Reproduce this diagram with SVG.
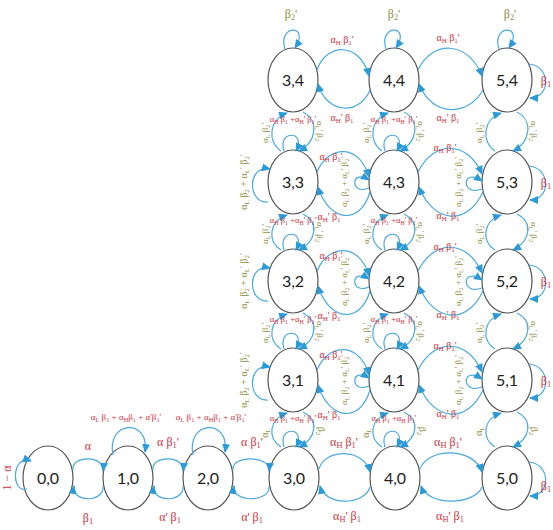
<svg xmlns="http://www.w3.org/2000/svg" width="553" height="530" viewBox="0 0 553 530">
<defs>
<marker id="ah" markerUnits="userSpaceOnUse" markerWidth="10" markerHeight="8" refX="8" refY="4" orient="auto"><path d="M0,0 L9,4 L0,8 z" fill="#2b9ad8"/></marker>
<style>
.node{fill:#fff;stroke:#555;stroke-width:1.2}
.nl{font-family:Lato,"Liberation Sans",sans-serif;font-size:16px;fill:#222;text-anchor:middle}
.e{fill:none;stroke:#4aaae0;stroke-width:1.2;marker-end:url(#ah)}
.r{font-family:"Liberation Serif",serif;fill:#cc3340;text-anchor:middle}
.o{font-family:"Liberation Serif",serif;fill:#8f8f3e;text-anchor:middle}
.b{font-size:0.7em}
.s12{font-size:12px}.s11{font-size:11px}.s10{font-size:10px}.s9{font-size:9px}.s85{font-size:8.5px}
</style>
</defs>
<rect width="553" height="530" fill="#fff"/>
<g id="nodes">
<g id="n0-0"><ellipse class="node" cx="48" cy="478" rx="25" ry="32"/><text class="nl" x="48" y="484">0,0</text></g>
<g id="n1-0"><ellipse class="node" cx="128" cy="478" rx="25" ry="32"/><text class="nl" x="128" y="484">1,0</text></g>
<g id="n2-0"><ellipse class="node" cx="208" cy="478" rx="25" ry="32"/><text class="nl" x="208" y="484">2,0</text></g>
<g id="n3-0"><ellipse class="node" cx="294" cy="478" rx="25" ry="32"/><text class="nl" x="294" y="484">3,0</text></g>
<g id="n4-0"><ellipse class="node" cx="395" cy="478" rx="25" ry="32"/><text class="nl" x="395" y="484">4,0</text></g>
<g id="n5-0"><ellipse class="node" cx="507" cy="478" rx="25" ry="32"/><text class="nl" x="507" y="484">5,0</text></g>
<g id="n3-1"><ellipse class="node" cx="293" cy="380" rx="25" ry="32"/><text class="nl" x="293" y="386">3,1</text></g>
<g id="n4-1"><ellipse class="node" cx="394" cy="380" rx="25" ry="32"/><text class="nl" x="394" y="386">4,1</text></g>
<g id="n5-1"><ellipse class="node" cx="507" cy="380" rx="25" ry="32"/><text class="nl" x="507" y="386">5,1</text></g>
<g id="n3-2"><ellipse class="node" cx="293" cy="281" rx="25" ry="32"/><text class="nl" x="293" y="287">3,2</text></g>
<g id="n4-2"><ellipse class="node" cx="394" cy="281" rx="25" ry="32"/><text class="nl" x="394" y="287">4,2</text></g>
<g id="n5-2"><ellipse class="node" cx="507" cy="281" rx="25" ry="32"/><text class="nl" x="507" y="287">5,2</text></g>
<g id="n3-3"><ellipse class="node" cx="293" cy="182" rx="25" ry="32"/><text class="nl" x="293" y="188">3,3</text></g>
<g id="n4-3"><ellipse class="node" cx="394" cy="182" rx="25" ry="32"/><text class="nl" x="394" y="188">4,3</text></g>
<g id="n5-3"><ellipse class="node" cx="507" cy="182" rx="25" ry="32"/><text class="nl" x="507" y="188">5,3</text></g>
<g id="n3-4"><ellipse class="node" cx="293" cy="80" rx="25" ry="32"/><text class="nl" x="293" y="86">3,4</text></g>
<g id="n4-4"><ellipse class="node" cx="394" cy="80" rx="25" ry="32"/><text class="nl" x="394" y="86">4,4</text></g>
<g id="n5-4"><ellipse class="node" cx="507" cy="80" rx="25" ry="32"/><text class="nl" x="507" y="86">5,4</text></g>
</g>
<g id="connectors">
<path class="e" d="M73,470 C71,455 105,455 103,471"/>
<path class="e" d="M103,486 C105,503 71,503 74,486"/>
<path class="e" d="M153,470 C151,455 185,455 183,471"/>
<path class="e" d="M183,486 C185,503 151,503 154,486"/>
<path class="e" d="M233,470 C231,455 271,455 269,471"/>
<path class="e" d="M269,486 C271,503 231,503 234,486"/>
<path class="e" d="M319,469 C325,448 364,448 370,472"/>
<path class="e" d="M370,487 C364,506 325,506 320,486"/>
<path class="e" d="M420,469 C428,447 474,447 482,472"/>
<path class="e" d="M482,487 C474,506 428,506 421,486"/>
<path class="e" d="M27,489 C11,494 11,454 31,461"/>
<path class="e" d="M113,455 C106,420 150,418 145,452"/>
<path class="e" d="M193,455 C186,420 230,418 225,452"/>
<path class="e" d="M281,447 C267,438 269,419 287,413"/>
<path class="e" d="M303,412 C319,420 317,438 299,447"/>
<path class="e" d="M284,447 C277,426 307,426 296,447"/>
<path class="e" d="M382,447 C368,438 370,419 388,413"/>
<path class="e" d="M404,412 C420,420 418,438 400,447"/>
<path class="e" d="M385,447 C378,426 408,426 397,447"/>
<path class="e" d="M495,447 C481,438 483,419 501,413"/>
<path class="e" d="M517,412 C533,420 531,438 513,447"/>
<path class="e" d="M281,349 C267,340 269,320 287,314"/>
<path class="e" d="M303,313 C319,321 317,340 299,349"/>
<path class="e" d="M284,349 C277,328 307,328 296,349"/>
<path class="e" d="M382,349 C368,340 370,320 388,314"/>
<path class="e" d="M404,313 C420,321 418,340 400,349"/>
<path class="e" d="M385,349 C378,328 408,328 397,349"/>
<path class="e" d="M495,349 C481,340 483,320 501,314"/>
<path class="e" d="M517,313 C533,321 531,340 513,349"/>
<path class="e" d="M281,250 C267,241 269,221 287,215"/>
<path class="e" d="M303,214 C319,222 317,241 299,250"/>
<path class="e" d="M284,250 C277,229 307,229 296,250"/>
<path class="e" d="M382,250 C368,241 370,221 388,215"/>
<path class="e" d="M404,214 C420,222 418,241 400,250"/>
<path class="e" d="M385,250 C378,229 408,229 397,250"/>
<path class="e" d="M495,250 C481,241 483,221 501,215"/>
<path class="e" d="M517,214 C533,222 531,241 513,250"/>
<path class="e" d="M281,151 C267,142 269,119 287,113"/>
<path class="e" d="M303,112 C319,120 317,142 299,151"/>
<path class="e" d="M284,151 C277,130 307,130 296,151"/>
<path class="e" d="M382,151 C368,142 370,119 388,113"/>
<path class="e" d="M404,112 C420,120 418,142 400,151"/>
<path class="e" d="M385,151 C378,130 408,130 397,151"/>
<path class="e" d="M495,151 C481,142 483,119 501,113"/>
<path class="e" d="M517,112 C533,120 531,142 513,151"/>
<path class="e" d="M268,400 C247,402 247,362 270,367"/>
<path class="e" d="M268,301 C247,303 247,263 270,268"/>
<path class="e" d="M268,202 C247,204 247,164 270,169"/>
<path class="e" d="M317,370 C329,342 360,342 369,375"/>
<path class="e" d="M370,390 C360,424 329,420 318,385"/>
<path class="e" d="M369,386 C350,394 350,366 369,378"/>
<path class="e" d="M317,271 C329,243 360,243 369,276"/>
<path class="e" d="M370,291 C360,325 329,321 318,286"/>
<path class="e" d="M369,287 C350,295 350,267 369,279"/>
<path class="e" d="M317,172 C329,144 360,144 369,177"/>
<path class="e" d="M370,192 C360,226 329,222 318,187"/>
<path class="e" d="M369,188 C350,196 350,168 369,180"/>
<path class="e" d="M418,370 C434,338 467,338 482,372"/>
<path class="e" d="M483,390 C467,424 434,422 419,385"/>
<path class="e" d="M482,387 C461,395 461,365 482,379"/>
<path class="e" d="M418,271 C434,239 467,239 482,273"/>
<path class="e" d="M483,291 C467,325 434,323 419,286"/>
<path class="e" d="M482,288 C461,296 461,266 482,280"/>
<path class="e" d="M418,172 C434,140 467,140 482,174"/>
<path class="e" d="M483,192 C467,226 434,224 419,187"/>
<path class="e" d="M482,189 C461,197 461,167 482,181"/>
<path class="e" d="M317,70 C327,42 360,42 369,76"/>
<path class="e" d="M370,90 C360,115 327,115 318,84"/>
<path class="e" d="M418,70 C432,40 468,40 482,76"/>
<path class="e" d="M483,90 C468,117 432,117 419,84"/>
<path class="e" d="M285,49 C277,24 311,24 295,48"/>
<path class="e" d="M386,49 C378,24 412,24 396,48"/>
<path class="e" d="M499,49 C491,24 525,24 509,48"/>
<path class="e" d="M529,64 C551,66 551,98 530,98"/>
<path class="e" d="M529,166 C551,168 551,200 530,200"/>
<path class="e" d="M529,265 C551,267 551,299 530,299"/>
<path class="e" d="M529,364 C551,366 551,398 530,398"/>
<path class="e" d="M529,462 C551,464 551,496 530,496"/>
</g>
<g id="labels">
<text class="r s12" transform="rotate(-90 11 478)" x="11" y="478">1 − α</text>
<text class="r s12" x="88" y="450">α</text>
<text class="r s12" x="88" y="522">β<tspan class="b" dy="2">1</tspan></text>
<text class="r s12" x="168" y="446">α β<tspan class="b" dy="2">1</tspan><tspan dy="-2">'</tspan></text>
<text class="r s12" x="170" y="521">α' β<tspan class="b" dy="2">1</tspan></text>
<text class="r s12" x="252" y="446">α β<tspan class="b" dy="2">1</tspan><tspan dy="-2">'</tspan></text>
<text class="r s12" x="252" y="521">α' β<tspan class="b" dy="2">1</tspan></text>
<text class="r s12" x="344" y="446">α<tspan class="b" dy="2">H</tspan><tspan dy="-2"> β</tspan><tspan class="b" dy="2">1</tspan><tspan dy="-2">'</tspan></text>
<text class="r s12" x="347" y="520">α<tspan class="b" dy="2">H</tspan><tspan dy="-2">' β</tspan><tspan class="b" dy="2">1</tspan></text>
<text class="r s12" x="448" y="446">α<tspan class="b" dy="2">H</tspan><tspan dy="-2"> β</tspan><tspan class="b" dy="2">1</tspan><tspan dy="-2">'</tspan></text>
<text class="r s12" x="450" y="520">α<tspan class="b" dy="2">H</tspan><tspan dy="-2">' β</tspan><tspan class="b" dy="2">1</tspan></text>
<text class="r s9" x="126" y="420">α<tspan class="b" dy="2">L</tspan><tspan dy="-2"> β</tspan><tspan class="b" dy="2">1</tspan><tspan dy="-2"> + α</tspan><tspan class="b" dy="2">H</tspan><tspan dy="-2">β</tspan><tspan class="b" dy="2">1</tspan><tspan dy="-2"> + α'β</tspan><tspan class="b" dy="2">1</tspan><tspan dy="-2">'</tspan></text>
<text class="r s9" x="211" y="420">α<tspan class="b" dy="2">L</tspan><tspan dy="-2"> β</tspan><tspan class="b" dy="2">1</tspan><tspan dy="-2"> + α</tspan><tspan class="b" dy="2">H</tspan><tspan dy="-2">β</tspan><tspan class="b" dy="2">1</tspan><tspan dy="-2"> + α'β</tspan><tspan class="b" dy="2">1</tspan><tspan dy="-2">'</tspan></text>
<text class="r s85" x="293" y="421">α<tspan class="b" dy="2">H</tspan><tspan dy="-2"> β</tspan><tspan class="b" dy="2">1</tspan><tspan dy="-2"> +α</tspan><tspan class="b" dy="2">H</tspan><tspan dy="-2">' β</tspan><tspan class="b" dy="2">1</tspan><tspan dy="-2">'</tspan></text>
<text class="r s85" x="394" y="421">α<tspan class="b" dy="2">H</tspan><tspan dy="-2"> β</tspan><tspan class="b" dy="2">1</tspan><tspan dy="-2"> +α</tspan><tspan class="b" dy="2">H</tspan><tspan dy="-2"> β</tspan><tspan class="b" dy="2">1</tspan><tspan dy="-2">'</tspan></text>
<text class="o s10" transform="rotate(-90 268 433)" x="268" y="433">α<tspan class="b" dy="2">L</tspan></text>
<text class="o s10" transform="rotate(90 318 431)" x="318" y="431">β<tspan class="b" dy="2">2</tspan></text>
<text class="o s10" transform="rotate(-90 369 433)" x="369" y="433">α<tspan class="b" dy="2">L</tspan></text>
<text class="o s10" transform="rotate(90 419 431)" x="419" y="431">β<tspan class="b" dy="2">2</tspan></text>
<text class="o s10" transform="rotate(-90 482 431)" x="482" y="431">α<tspan class="b" dy="2">L</tspan></text>
<text class="o s10" transform="rotate(90 531 431)" x="531" y="431">β<tspan class="b" dy="2">2</tspan></text>
<text class="r s85" x="293" y="322">α<tspan class="b" dy="2">H</tspan><tspan dy="-2"> β</tspan><tspan class="b" dy="2">1</tspan><tspan dy="-2"> +α</tspan><tspan class="b" dy="2">H</tspan><tspan dy="-2">' β</tspan><tspan class="b" dy="2">1</tspan><tspan dy="-2">'</tspan></text>
<text class="r s85" x="394" y="322">α<tspan class="b" dy="2">H</tspan><tspan dy="-2"> β</tspan><tspan class="b" dy="2">1</tspan><tspan dy="-2"> +α</tspan><tspan class="b" dy="2">H</tspan><tspan dy="-2">' β</tspan><tspan class="b" dy="2">1</tspan><tspan dy="-2">'</tspan></text>
<text class="r s85" x="293" y="223">α<tspan class="b" dy="2">H</tspan><tspan dy="-2"> β</tspan><tspan class="b" dy="2">1</tspan><tspan dy="-2"> +α</tspan><tspan class="b" dy="2">H</tspan><tspan dy="-2">' β</tspan><tspan class="b" dy="2">1</tspan><tspan dy="-2">'</tspan></text>
<text class="r s85" x="394" y="223">α<tspan class="b" dy="2">H</tspan><tspan dy="-2"> β</tspan><tspan class="b" dy="2">1</tspan><tspan dy="-2"> +α</tspan><tspan class="b" dy="2">H</tspan><tspan dy="-2">' β</tspan><tspan class="b" dy="2">1</tspan><tspan dy="-2">'</tspan></text>
<text class="r s85" x="293" y="122">α<tspan class="b" dy="2">H</tspan><tspan dy="-2"> β</tspan><tspan class="b" dy="2">1</tspan><tspan dy="-2"> +α</tspan><tspan class="b" dy="2">H</tspan><tspan dy="-2">' β</tspan><tspan class="b" dy="2">1</tspan><tspan dy="-2">'</tspan></text>
<text class="r s85" x="394" y="122">α<tspan class="b" dy="2">H</tspan><tspan dy="-2"> β</tspan><tspan class="b" dy="2">1</tspan><tspan dy="-2"> +α</tspan><tspan class="b" dy="2">H</tspan><tspan dy="-2">' β</tspan><tspan class="b" dy="2">1</tspan><tspan dy="-2">'</tspan></text>
<text class="o s9" transform="rotate(-90 268 333)" x="268" y="333">α<tspan class="b" dy="2">L</tspan><tspan dy="-2"> β</tspan><tspan class="b" dy="2">2</tspan><tspan dy="-2">'</tspan></text>
<text class="o s9" transform="rotate(90 317 331)" x="317" y="331">α<tspan class="b" dy="2">L</tspan><tspan dy="-2">' β</tspan><tspan class="b" dy="2">2</tspan></text>
<text class="o s9" transform="rotate(-90 369 333)" x="369" y="333">α<tspan class="b" dy="2">L</tspan><tspan dy="-2"> β</tspan><tspan class="b" dy="2">2</tspan><tspan dy="-2">'</tspan></text>
<text class="o s9" transform="rotate(90 418 331)" x="418" y="331">α<tspan class="b" dy="2">L</tspan><tspan dy="-2">' β</tspan><tspan class="b" dy="2">2</tspan></text>
<text class="o s9" transform="rotate(-90 482 333)" x="482" y="333">α<tspan class="b" dy="2">L</tspan><tspan dy="-2"> β</tspan><tspan class="b" dy="2">2</tspan><tspan dy="-2">'</tspan></text>
<text class="o s9" transform="rotate(90 531 331)" x="531" y="331">α<tspan class="b" dy="2">L</tspan><tspan dy="-2">' β</tspan><tspan class="b" dy="2">2</tspan></text>
<text class="o s9" transform="rotate(-90 268 234)" x="268" y="234">α<tspan class="b" dy="2">L</tspan><tspan dy="-2"> β</tspan><tspan class="b" dy="2">2</tspan><tspan dy="-2">'</tspan></text>
<text class="o s9" transform="rotate(90 317 232)" x="317" y="232">α<tspan class="b" dy="2">L</tspan><tspan dy="-2">' β</tspan><tspan class="b" dy="2">2</tspan></text>
<text class="o s9" transform="rotate(-90 369 234)" x="369" y="234">α<tspan class="b" dy="2">L</tspan><tspan dy="-2"> β</tspan><tspan class="b" dy="2">2</tspan><tspan dy="-2">'</tspan></text>
<text class="o s9" transform="rotate(90 418 232)" x="418" y="232">α<tspan class="b" dy="2">L</tspan><tspan dy="-2">' β</tspan><tspan class="b" dy="2">2</tspan></text>
<text class="o s9" transform="rotate(-90 482 234)" x="482" y="234">α<tspan class="b" dy="2">L</tspan><tspan dy="-2"> β</tspan><tspan class="b" dy="2">2</tspan><tspan dy="-2">'</tspan></text>
<text class="o s9" transform="rotate(90 531 232)" x="531" y="232">α<tspan class="b" dy="2">L</tspan><tspan dy="-2">' β</tspan><tspan class="b" dy="2">2</tspan></text>
<text class="o s9" transform="rotate(-90 268 133)" x="268" y="133">α<tspan class="b" dy="2">L</tspan><tspan dy="-2"> β</tspan><tspan class="b" dy="2">2</tspan><tspan dy="-2">'</tspan></text>
<text class="o s9" transform="rotate(90 317 131)" x="317" y="131">α<tspan class="b" dy="2">L</tspan><tspan dy="-2">' β</tspan><tspan class="b" dy="2">2</tspan></text>
<text class="o s9" transform="rotate(-90 369 133)" x="369" y="133">α<tspan class="b" dy="2">L</tspan><tspan dy="-2"> β</tspan><tspan class="b" dy="2">2</tspan><tspan dy="-2">'</tspan></text>
<text class="o s9" transform="rotate(90 418 131)" x="418" y="131">α<tspan class="b" dy="2">L</tspan><tspan dy="-2">' β</tspan><tspan class="b" dy="2">2</tspan></text>
<text class="o s9" transform="rotate(-90 482 133)" x="482" y="133">α<tspan class="b" dy="2">L</tspan><tspan dy="-2"> β</tspan><tspan class="b" dy="2">2</tspan><tspan dy="-2">'</tspan></text>
<text class="o s9" transform="rotate(90 531 131)" x="531" y="131">α<tspan class="b" dy="2">L</tspan><tspan dy="-2">' β</tspan><tspan class="b" dy="2">2</tspan></text>
<text class="o s10" transform="rotate(-90 247 380)" x="247" y="380">α<tspan class="b" dy="2">L</tspan><tspan dy="-2"> β</tspan><tspan class="b" dy="2">2</tspan><tspan dy="-2"> + α</tspan><tspan class="b" dy="2">L</tspan><tspan dy="-2">' β</tspan><tspan class="b" dy="2">2</tspan><tspan dy="-2">'</tspan></text>
<text class="o s10" transform="rotate(-90 247 281)" x="247" y="281">α<tspan class="b" dy="2">L</tspan><tspan dy="-2"> β</tspan><tspan class="b" dy="2">2</tspan><tspan dy="-2"> + α</tspan><tspan class="b" dy="2">L</tspan><tspan dy="-2">' β</tspan><tspan class="b" dy="2">2</tspan><tspan dy="-2">'</tspan></text>
<text class="o s10" transform="rotate(-90 247 182)" x="247" y="182">α<tspan class="b" dy="2">L</tspan><tspan dy="-2"> β</tspan><tspan class="b" dy="2">2</tspan><tspan dy="-2"> + α</tspan><tspan class="b" dy="2">L</tspan><tspan dy="-2">' β</tspan><tspan class="b" dy="2">2</tspan><tspan dy="-2">'</tspan></text>
<text class="o s9" transform="rotate(-90 347 380)" x="347" y="380">α<tspan class="b" dy="2">L</tspan><tspan dy="-2"> β</tspan><tspan class="b" dy="2">2</tspan><tspan dy="-2"> + α</tspan><tspan class="b" dy="2">L</tspan><tspan dy="-2">' β</tspan><tspan class="b" dy="2">2</tspan><tspan dy="-2">'</tspan></text>
<text class="o s9" transform="rotate(-90 347 281)" x="347" y="281">α<tspan class="b" dy="2">L</tspan><tspan dy="-2"> β</tspan><tspan class="b" dy="2">2</tspan><tspan dy="-2"> + α</tspan><tspan class="b" dy="2">L</tspan><tspan dy="-2">' β</tspan><tspan class="b" dy="2">2</tspan><tspan dy="-2">'</tspan></text>
<text class="o s9" transform="rotate(-90 347 182)" x="347" y="182">α<tspan class="b" dy="2">L</tspan><tspan dy="-2"> β</tspan><tspan class="b" dy="2">2</tspan><tspan dy="-2"> + α</tspan><tspan class="b" dy="2">L</tspan><tspan dy="-2">' β</tspan><tspan class="b" dy="2">2</tspan><tspan dy="-2">'</tspan></text>
<text class="o s9" transform="rotate(-90 461 380)" x="461" y="380">α<tspan class="b" dy="2">L</tspan><tspan dy="-2"> β</tspan><tspan class="b" dy="2">2</tspan><tspan dy="-2"> + α</tspan><tspan class="b" dy="2">L</tspan><tspan dy="-2">' β</tspan><tspan class="b" dy="2">2</tspan><tspan dy="-2">'</tspan></text>
<text class="o s9" transform="rotate(-90 461 281)" x="461" y="281">α<tspan class="b" dy="2">L</tspan><tspan dy="-2"> β</tspan><tspan class="b" dy="2">2</tspan><tspan dy="-2"> + α</tspan><tspan class="b" dy="2">L</tspan><tspan dy="-2">' β</tspan><tspan class="b" dy="2">2</tspan><tspan dy="-2">'</tspan></text>
<text class="o s9" transform="rotate(-90 461 182)" x="461" y="182">α<tspan class="b" dy="2">L</tspan><tspan dy="-2"> β</tspan><tspan class="b" dy="2">2</tspan><tspan dy="-2"> + α</tspan><tspan class="b" dy="2">L</tspan><tspan dy="-2">' β</tspan><tspan class="b" dy="2">2</tspan><tspan dy="-2">'</tspan></text>
<text class="r s10" x="331" y="358">α<tspan class="b" dy="2">H</tspan><tspan dy="-2"> β</tspan><tspan class="b" dy="2">1</tspan><tspan dy="-2">'</tspan></text>
<text class="r s10" x="329" y="418">α<tspan class="b" dy="2">H</tspan><tspan dy="-2">' β</tspan><tspan class="b" dy="2">1</tspan></text>
<text class="r s10" x="331" y="259">α<tspan class="b" dy="2">H</tspan><tspan dy="-2"> β</tspan><tspan class="b" dy="2">1</tspan><tspan dy="-2">'</tspan></text>
<text class="r s10" x="329" y="319">α<tspan class="b" dy="2">H</tspan><tspan dy="-2">' β</tspan><tspan class="b" dy="2">1</tspan></text>
<text class="r s10" x="331" y="160">α<tspan class="b" dy="2">H</tspan><tspan dy="-2"> β</tspan><tspan class="b" dy="2">1</tspan><tspan dy="-2">'</tspan></text>
<text class="r s10" x="329" y="220">α<tspan class="b" dy="2">H</tspan><tspan dy="-2">' β</tspan><tspan class="b" dy="2">1</tspan></text>
<text class="r s10" x="445" y="349">α<tspan class="b" dy="2">H</tspan><tspan dy="-2"> β</tspan><tspan class="b" dy="2">1</tspan><tspan dy="-2">'</tspan></text>
<text class="r s10" x="448" y="417">α<tspan class="b" dy="2">H</tspan><tspan dy="-2">' β</tspan><tspan class="b" dy="2">1</tspan></text>
<text class="r s10" x="445" y="250">α<tspan class="b" dy="2">H</tspan><tspan dy="-2"> β</tspan><tspan class="b" dy="2">1</tspan><tspan dy="-2">'</tspan></text>
<text class="r s10" x="448" y="318">α<tspan class="b" dy="2">H</tspan><tspan dy="-2">' β</tspan><tspan class="b" dy="2">1</tspan></text>
<text class="r s10" x="445" y="151">α<tspan class="b" dy="2">H</tspan><tspan dy="-2"> β</tspan><tspan class="b" dy="2">1</tspan><tspan dy="-2">'</tspan></text>
<text class="r s10" x="448" y="219">α<tspan class="b" dy="2">H</tspan><tspan dy="-2">' β</tspan><tspan class="b" dy="2">1</tspan></text>
<text class="r s10" x="342" y="43">α<tspan class="b" dy="2">H</tspan><tspan dy="-2"> β</tspan><tspan class="b" dy="2">1</tspan><tspan dy="-2">'</tspan></text>
<text class="r s10" x="342" y="121">α<tspan class="b" dy="2">H</tspan><tspan dy="-2">' β</tspan><tspan class="b" dy="2">1</tspan></text>
<text class="r s10" x="448" y="41">α<tspan class="b" dy="2">H</tspan><tspan dy="-2"> β</tspan><tspan class="b" dy="2">1</tspan><tspan dy="-2">'</tspan></text>
<text class="r s10" x="448" y="121">α<tspan class="b" dy="2">H</tspan><tspan dy="-2">' β</tspan><tspan class="b" dy="2">1</tspan></text>
<text class="o s12" x="291" y="18">β<tspan class="b" dy="2">2</tspan><tspan dy="-2">'</tspan></text>
<text class="o s12" x="394" y="18">β<tspan class="b" dy="2">2</tspan><tspan dy="-2">'</tspan></text>
<text class="o s12" x="510" y="18">β<tspan class="b" dy="2">2</tspan><tspan dy="-2">'</tspan></text>
<text class="r s12" x="546" y="85">β<tspan class="b" dy="2">1</tspan></text>
<text class="r s12" x="546" y="187">β<tspan class="b" dy="2">1</tspan></text>
<text class="r s12" x="546" y="286">β<tspan class="b" dy="2">1</tspan></text>
<text class="r s12" x="546" y="385">β<tspan class="b" dy="2">1</tspan></text>
<text class="r s12" x="546" y="490">β<tspan class="b" dy="2">1</tspan></text>
</g>
</svg>
